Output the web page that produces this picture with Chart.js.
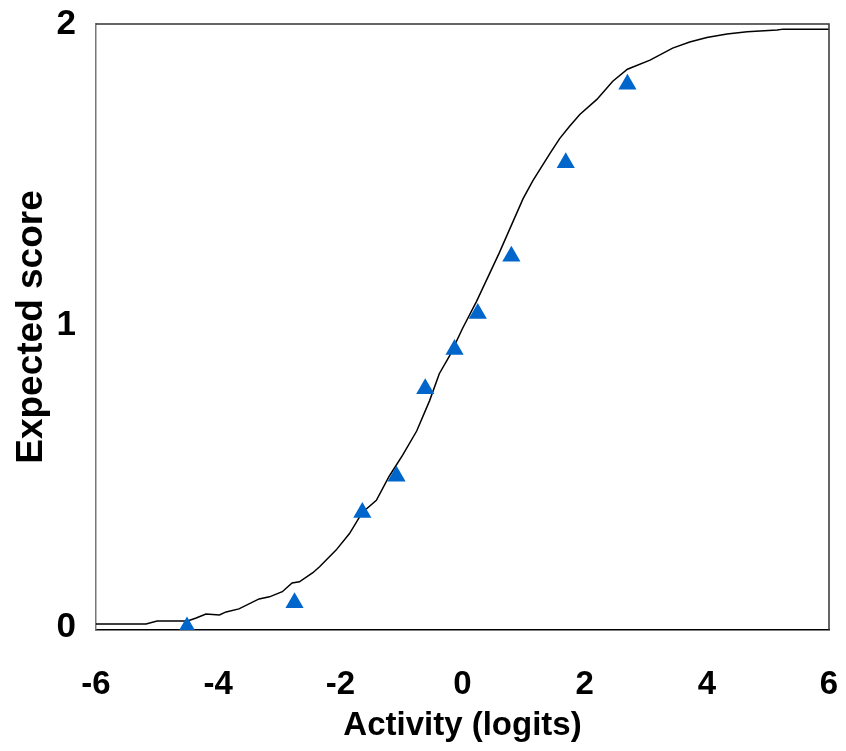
<!DOCTYPE html>
<html>
<head>
<meta charset="utf-8">
<script src="https://cdn.jsdelivr.net/npm/chart.js@4.4.1/dist/chart.umd.min.js"></script>
<style>
  html, body { margin: 0; padding: 0; background: #fff; }
  #wrap { width: 846px; height: 751px; }
</style>
</head>
<body>
<div id="wrap"><canvas id="myChart" width="846" height="751"></canvas></div>
<script>
// observed scores (triangles)
const obsX = [-4.51, -2.75, -1.64, -1.08, -0.61, -0.13, 0.25, 0.80, 1.69, 2.70];
const obsY = [0.00, 0.08, 0.38, 0.50, 0.79, 0.92, 1.04, 1.23, 1.54, 1.80];

// expected score curve
const curveX = [-6.0, -5.18, -5.0, -4.5, -4.36, -4.2, -3.98, -3.87, -3.66, -3.33, -3.16, -2.95,
  -2.79, -2.67, -2.45, -2.34, -2.07, -1.85, -1.64, -1.41, -1.2, -0.98, -0.75, -0.54, -0.38,
  -0.21, 0.0, 0.23, 0.6, 0.99, 1.15, 1.43, 1.59, 1.75, 1.92, 2.2, 2.46, 2.7, 3.07, 3.44,
  3.72, 4.0, 4.33, 4.66, 5.15, 5.25, 6.0];
const curveY = [0.01, 0.01, 0.02, 0.02, 0.03, 0.043, 0.04, 0.05, 0.06, 0.093, 0.10, 0.117,
  0.146, 0.15, 0.18, 0.20, 0.255, 0.31, 0.38, 0.42, 0.50, 0.57, 0.65, 0.75, 0.84,
  0.90, 0.99, 1.08, 1.24, 1.42, 1.48, 1.57, 1.62, 1.66, 1.70, 1.75, 1.81, 1.85, 1.88, 1.92,
  1.94, 1.955, 1.967, 1.974, 1.98, 1.983, 1.983];

const xTicks = [-6, -4, -2, 0, 2, 4, 6];
const yTicks = [0, 1, 2];

const font = 'Liberation Sans, Arial, Helvetica, sans-serif';

const boxPlugin = {
  id: 'box',
  afterDraw(chart) {
    const a = chart.chartArea;
    const c = chart.ctx;
    c.save();
    c.lineWidth = 1.5;
    c.strokeStyle = '#333';
    c.beginPath();
    c.moveTo(a.left, a.top);
    c.lineTo(a.right, a.top);
    c.lineTo(a.right, a.bottom);
    c.stroke();
    c.restore();
  }
};

const ctx = document.getElementById('myChart').getContext('2d');
const myChart = new Chart(ctx, {
  type: 'scatter',
  data: {
    datasets: [
      {
        label: 'Expected',
        data: curveX.map((x, i) => ({ x: x, y: curveY[i] })),
        showLine: true,
        borderColor: '#000',
        borderWidth: 1.5,
        pointRadius: 0,
        tension: 0,
        order: 2
      },
      {
        label: 'Observed',
        data: obsX.map((x, i) => ({ x: x, y: obsY[i] })),
        pointStyle: 'triangle',
        pointRadius: 10.5,
        backgroundColor: '#0066CC',
        borderColor: '#0066CC',
        borderWidth: 0,
        order: 1
      }
    ]
  },
  options: {
    responsive: false,
    animation: false,
    layout: { padding: { top: 24, right: 17, left: 0, bottom: 0 } },
    plugins: {
      legend: { display: false },
      tooltip: { enabled: false }
    },
    scales: {
      x: {
        type: 'linear',
        min: -6,
        max: 6,
        afterBuildTicks: s => { s.ticks = xTicks.map(v => ({ value: v })); },
        afterFit: s => { s.height = 121; s.paddingLeft = 0; s.paddingRight = 0; },
        grid: { display: false, drawOnChartArea: false, drawTicks: true, tickLength: 8, color: '#000' },
        border: { display: true, color: '#000', width: 1.5 },
        ticks: { color: '#000', padding: 27, font: { family: font, size: 33, weight: 'bold' } },
        title: {
          display: true,
          text: 'Activity (logits)',
          color: '#000',
          padding: { top: 0, bottom: 5 },
          font: { family: font, size: 33, weight: 'bold' }
        }
      },
      y: {
        type: 'linear',
        min: -0.01,
        max: 2,
        afterBuildTicks: s => { s.ticks = yTicks.map(v => ({ value: v })); },
        afterFit: s => { s.width = 96; s.paddingTop = 0; s.paddingBottom = 0; },
        grid: { display: false, drawOnChartArea: false, drawTicks: true, tickLength: 8, color: '#555' },
        border: { display: true, color: '#777', width: 1.5 },
        ticks: { color: '#000', padding: 12, font: { family: font, size: 35, weight: 'bold' } },
        title: {
          display: true,
          text: 'Expected score',
          color: '#000',
          padding: { top: 10, bottom: 0 },
          font: { family: font, size: 37, weight: 'bold' }
        }
      }
    }
  },
  plugins: [boxPlugin]
});
</script>
</body>
</html>
